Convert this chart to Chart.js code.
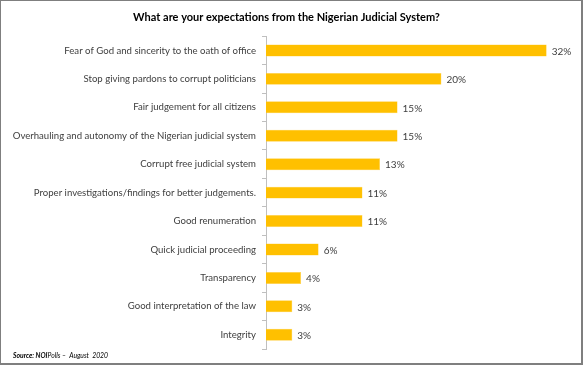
<!DOCTYPE html>
<html>
<head>
<meta charset="utf-8">
<script src="https://cdn.jsdelivr.net/npm/chart.js@4.4.1/dist/chart.umd.min.js"></script>
<style>
    html, body { margin: 0; padding: 0; background: #fff; }
    #wrap { position: relative; width: 583px; height: 365px; }
    #frame {
        position: absolute; left: 0; top: 0; width: 583px; height: 365px;
        box-sizing: border-box; border: 1px solid #7f7f7f;
        border-right-width: 2px; border-bottom-width: 2px;
        pointer-events: none;
    }
</style>
</head>
<body>
<div id="wrap">
    <canvas id="chartExpect" width="583" height="365"></canvas>
    <div id="frame"></div>
</div>
<script>
// Expectations from the Nigerian Judicial System (NOIPolls, Aug 2020)
const categories = [
    'Fear of God and sincerity to the oath of office',
    'Stop giving pardons to corrupt politicians',
    'Fair judgement for all citizens',
    'Overhauling and autonomy of the Nigerian judicial system',
    'Corrupt free judicial system',
    'Proper investigations/findings for better judgements.',
    'Good renumeration',
    'Quick judicial proceeding',
    'Transparency',
    'Good interpretation of the law',
    'Integrity'
];
const percentages = [32, 20, 15, 15, 13, 11, 11, 6, 4, 3, 3];
const chartTitle = 'What are your expectations from the Nigerian Judicial System?';
const sourceBold = 'Source: NOI';
const sourceRest = 'Polls \u2013  August  2020';

const FONT = "Lato, 'Liberation Sans', sans-serif";

// value labels at the end of each bar
const barLabels = {
    id: 'barLabels',
    afterDatasetsDraw(chart) {
        const ctx = chart.ctx;
        const meta = chart.getDatasetMeta(0);
        ctx.save();
        ctx.font = '10px ' + FONT;
        ctx.fillStyle = '#404040';
        ctx.textBaseline = 'middle';
        meta.data.forEach((bar, i) => {
            ctx.fillText(percentages[i] + '%', bar.x + 5, bar.y + 1);
        });
        ctx.restore();
    }
};

// source note, bottom left
const sourceNote = {
    id: 'sourceNote',
    afterDraw(chart) {
        const ctx = chart.ctx;
        ctx.save();
        ctx.fillStyle = '#000';
        ctx.textBaseline = 'middle';
        const y = chart.height - 9;
        ctx.font = 'italic bold 6.8px ' + FONT;
        ctx.fillText(sourceBold, 13, y);
        const w = ctx.measureText(sourceBold).width;
        ctx.font = 'italic 6.8px ' + FONT;
        ctx.fillText(sourceRest, 13 + w, y);
        ctx.restore();
    }
};

new Chart(document.getElementById('chartExpect').getContext('2d'), {
    type: 'bar',
    data: {
        labels: categories,
        datasets: [{
            data: percentages,
            backgroundColor: '#FFC000',
            borderColor: '#FFD24D',
            borderWidth: 0.5,
            barPercentage: 0.42,
            categoryPercentage: 1
        }]
    },
    options: {
        indexAxis: 'y',
        responsive: false,
        animation: false,
        layout: { padding: { left: 0, right: 10, top: 0, bottom: 16 } },
        plugins: {
            legend: { display: false },
            tooltip: { enabled: false },
            title: {
                display: true,
                text: chartTitle,
                color: '#000',
                font: { family: FONT, size: 11, weight: 'bold', lineHeight: 1.2 },
                padding: { top: 11, bottom: 12 }
            }
        },
        scales: {
            x: { display: false, min: 0, max: 35 },
            y: {
                afterFit(scale) { scale.width = 266; },
                grid: {
                    display: true,
                    drawOnChartArea: false,
                    drawTicks: true,
                    tickLength: 4,
                    color: '#bfbfbf'
                },
                border: { display: true, color: '#bfbfbf' },
                ticks: {
                    color: '#404040',
                    padding: 6,
                    autoSkip: false,
                    font: { family: FONT, size: 9.6 }
                }
            }
        }
    },
    plugins: [barLabels, sourceNote]
});
</script>
</body>
</html>
